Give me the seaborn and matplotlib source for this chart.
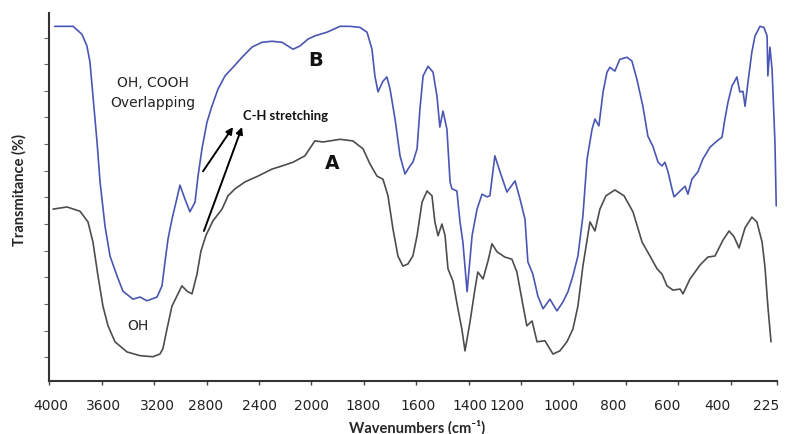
import numpy as np
import pandas as pd
import seaborn as sns
import matplotlib.pyplot as plt
from matplotlib.transforms import ScaledTranslation

# spectrum B (blue), wavenumber (cm-1) vs transmittance
wn_b = [3960, 3820, 3752, 3714, 3691, 3668, 3637, 3614, 3576, 3538, 3485, 3439,
        3363, 3309, 3256, 3179, 3141, 3118, 3095, 3065, 3034, 3004, 2966, 2928,
        2889, 2866, 2836, 2798, 2760, 2714, 2660, 2599, 2530, 2454, 2378, 2302,
        2225, 2179, 2141, 2088, 2027, 1987, 1941, 1891, 1853, 1815, 1788, 1769,
        1758, 1746, 1727, 1712, 1700, 1681, 1662, 1643, 1624, 1613, 1597, 1586,
        1574, 1555, 1536, 1521, 1510, 1498, 1483, 1471, 1464, 1445, 1433, 1422,
        1406, 1387, 1368, 1349, 1330, 1319, 1300, 1281, 1254, 1223, 1204, 1185,
        1174, 1155, 1136, 1116, 1090, 1063, 1040, 1021, 1002, 983, 964, 948,
        929, 918, 903, 887, 872, 861, 842, 823, 796, 777, 758, 735, 716, 697,
        677, 662, 651, 639, 624, 616, 593, 574, 563, 548, 525, 506, 479, 452,
        433, 422, 410, 395, 376, 365, 353, 345, 334, 319, 307, 288, 273, 261,
        258, 250, 242, 231, 226]
t_b = [67.1, 67.1, 65.6, 63.4, 60.4, 54.0, 45.4, 37.9, 29.6, 24.0, 20.3, 17.4,
       15.9, 16.3, 15.6, 16.3, 18.4, 22.9, 27.2, 30.9, 34.1, 37.3, 34.7, 32.3,
       34.1, 39.0, 44.1, 49.1, 52.1, 55.3, 57.8, 59.4, 61.3, 63.2, 64.1, 64.3,
       64.1, 63.4, 62.8, 63.4, 64.7, 65.3, 66.0, 67.1, 67.1, 66.9, 66.0, 62.8,
       57.8, 54.8, 56.8, 57.6, 55.3, 49.7, 42.8, 39.4, 40.9, 41.6, 44.1, 51.6,
       57.8, 59.6, 58.5, 54.0, 48.2, 51.2, 47.8, 37.9, 36.6, 36.2, 30.4, 26.6,
       17.3, 27.8, 32.8, 35.6, 35.1, 35.3, 42.8, 39.9, 36.0, 38.1, 34.7, 30.9,
       22.9, 20.6, 16.5, 14.1, 15.9, 13.7, 15.4, 17.3, 20.3, 24.0, 31.5, 42.2,
       47.8, 49.7, 48.4, 54.8, 58.5, 59.4, 58.7, 60.9, 61.3, 60.6, 57.2, 52.1,
       46.5, 44.6, 41.6, 40.9, 41.6, 39.8, 36.6, 35.1, 36.2, 37.1, 35.6, 38.4,
       39.8, 42.2, 44.4, 45.6, 46.3, 49.7, 52.9, 55.9, 57.6, 54.8, 54.9, 52.1,
       56.6, 62.3, 65.3, 67.1, 66.9, 65.3, 57.8, 63.2, 59.1, 45.4, 33.4]

# spectrum A (grey)
wn_a = [3973, 3866, 3767, 3706, 3668, 3630, 3592, 3553, 3500, 3408, 3309, 3210,
        3157, 3134, 3103, 3065, 3027, 2989, 2950, 2912, 2874, 2844, 2805, 2752,
        2683, 2637, 2584, 2508, 2408, 2302, 2225, 2141, 2050, 1987, 1956, 1891,
        1842, 1803, 1777, 1750, 1727, 1708, 1689, 1670, 1651, 1632, 1613, 1597,
        1578, 1559, 1540, 1529, 1517, 1502, 1490, 1479, 1460, 1441, 1426, 1414,
        1395, 1376, 1365, 1345, 1326, 1311, 1292, 1262, 1235, 1216, 1197, 1178,
        1158, 1139, 1109, 1078, 1052, 1025, 1002, 983, 964, 937, 918, 899, 876,
        842, 807, 773, 738, 708, 681, 662, 643, 620, 593, 582, 555, 517, 487,
        460, 429, 406, 387, 368, 345, 319, 300, 280, 269, 258, 246]
t_a = [32.8, 33.2, 32.4, 30.4, 26.6, 20.3, 14.6, 10.9, 7.9, 6.0, 5.3, 5.1,
       5.6, 6.6, 10.3, 14.6, 16.5, 18.4, 17.4, 16.9, 20.6, 24.9, 27.9, 30.6,
       32.8, 35.3, 36.6, 37.9, 39.0, 40.3, 40.9, 41.6, 42.8, 45.6, 45.4, 45.9,
       45.6, 44.1, 41.3, 39.0, 38.4, 35.3, 29.1, 24.0, 22.1, 22.5, 24.0, 27.8,
       34.1, 36.2, 35.3, 30.4, 27.8, 30.0, 27.8, 21.6, 19.3, 14.1, 10.3, 6.2,
       11.6, 17.8, 21.0, 19.7, 23.1, 26.3, 24.8, 23.8, 23.4, 21.0, 15.9, 10.9,
       11.8, 7.9, 8.1, 5.6, 6.2, 7.9, 10.3, 14.6, 22.1, 30.4, 28.7, 32.8, 35.3,
       36.4, 35.3, 32.3, 26.6, 24.0, 21.6, 20.6, 18.4, 17.6, 17.8, 16.9, 19.7,
       22.3, 23.8, 24.0, 27.0, 28.7, 27.6, 25.5, 29.3, 31.3, 30.4, 26.6, 21.9,
       14.6, 7.9]

xticks = [4000, 3600, 3200, 2800, 2400, 2000, 1800, 1600, 1400, 1200, 1000, 800, 600, 400, 225]
# labels in the original sit a little off their tick marks (pixels)
label_shift = [1, 2, 3, -1, 0, 0, -1, 2, 1, -14, -12, -13, -11, -13, -10]

df_b = pd.DataFrame({'wn': wn_b, 'T': t_b})
df_a = pd.DataFrame({'wn': wn_a, 'T': t_a})


# usual FTIR axis: 2x compressed above 2000 cm-1
def fwd(w):
    w = np.asarray(w, dtype=float)
    return np.where(w > 2000, 2000 + (w - 2000) / 2, w)


def inv(p):
    p = np.asarray(p, dtype=float)
    return np.where(p > 2000, 2000 + (p - 2000) * 2, p)


sns.set_style("white")
fig = plt.figure(figsize=(7.93, 4.35), dpi=100)
ax = fig.add_axes([0.0624, 0.1225, 0.9168, 0.8453])

sns.lineplot(data=df_b, x='wn', y='T', ax=ax, color='#4a56b4', lw=1.2, estimator=None)
sns.lineplot(data=df_a, x='wn', y='T', ax=ax, color='#4d4d4d', lw=1.2, estimator=None)

ax.set_xscale('function', functions=(fwd, inv))
ax.set_xlim(4000, 225)
ax.set_ylim(0.6, 69.6)

ax.set_xticks(xticks)
ax.set_xticklabels([str(v) for v in xticks], fontsize=10, family='DejaVu Sans', color='#222222')
ax.set_yticks(np.arange(5, 70, 5))
ax.set_yticklabels([])
ax.tick_params(axis='x', bottom=True, direction='out', length=3, width=1, color='#444444', pad=9.5)
ax.tick_params(axis='y', left=True, direction='out', length=3.5, width=0.8, color='#666666')
for lab, dx in zip(ax.get_xticklabels(), label_shift):
    lab.set_transform(lab.get_transform() + ScaledTranslation(dx / 100, 0, fig.dpi_scale_trans))

for s in ['top', 'right']:
    ax.spines[s].set_visible(False)
for s in ['left', 'bottom']:
    ax.spines[s].set_color('#333333')
    ax.spines[s].set_linewidth(1.5)

ax.set_xlabel('Wavenumbers (cm⁻¹)', fontsize=10.5, fontweight='bold', family=['Lato', 'DejaVu Sans'])
ax.set_ylabel('Transmitance (%)', fontsize=10.5, fontweight='bold', family=['Lato', 'DejaVu Sans'])
ax.xaxis.set_label_coords(0.505, -0.105)
ax.yaxis.set_label_coords(-0.032, 0.521)

# annotations
ax.text(1983, 60.9, 'B', fontsize=14, fontweight='bold', ha='center', va='center', color='#111111')
ax.text(1922, 41.6, 'A', fontsize=13.5, fontweight='bold', ha='center', va='center', color='#111111')
ax.text(3210, 56.6, 'OH, COOH', fontsize=10, ha='center', va='center', color='#222222')
ax.text(3210, 52.9, 'Overlapping', fontsize=10, ha='center', va='center', color='#222222')
ax.text(3324, 11.1, 'OH', fontsize=10, ha='center', va='center', color='#222222')
ax.text(2195, 50.4, 'C-H stretching', fontsize=9.4, fontweight='bold', family=['Lato', 'DejaVu Sans'],
        ha='center', va='center', color='#111111')
arrow = dict(arrowstyle='-|>', color='black', lw=1.4, mutation_scale=10, shrinkA=0, shrinkB=0)
ax.annotate('', xy=(2599, 48.2), xytext=(2828, 39.9), arrowprops=arrow)
ax.annotate('', xy=(2530, 48.2), xytext=(2821, 28.7), arrowprops=arrow)

fig.savefig('out.png', dpi=100)
